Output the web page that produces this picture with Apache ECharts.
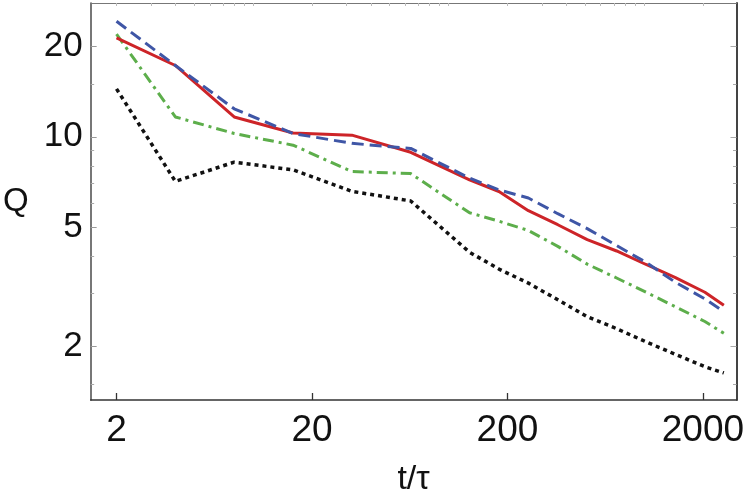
<!DOCTYPE html>
<html>
<head>
<meta charset="utf-8">
<script src="https://cdn.jsdelivr.net/npm/echarts@6/dist/echarts.min.js"></script>
<style>
html,body{margin:0;padding:0;background:#fff}
#main{width:747px;height:502px}
</style>
</head>
<body>
<div id="main"></div>
<script>
// t/tau sample points
var tValues = [2, 4, 8, 16, 32, 64, 128, 181, 256, 362, 512, 724, 1024, 1448, 2048, 2560];
// Q values
var redQ   = [21.4, 17.3, 11.65, 10.3, 10.13, 8.88, 7.19, 6.57, 5.67, 5.09, 4.54, 4.16, 3.75, 3.39, 3.03, 2.74];
var blueQ  = [24.3, 17.3, 12.4, 10.26, 9.51, 9.15, 7.28, 6.65, 6.25, 5.54, 4.94, 4.34, 3.81, 3.27, 2.88, 2.61];
var greenQ = [22.0, 11.65, 10.26, 9.38, 7.66, 7.54, 5.58, 5.23, 4.87, 4.31, 3.76, 3.38, 3.03, 2.71, 2.42, 2.21];
var blackQ = [14.45, 7.10, 8.23, 7.76, 6.58, 6.11, 4.12, 3.62, 3.25, 2.86, 2.51, 2.29, 2.07, 1.88, 1.71, 1.63];

var xMajor = [2, 20, 200, 2000];
var xMinor = [3, 4, 5, 6, 7, 8, 9, 10, 30, 40, 50, 60, 70, 80, 90, 100, 300, 400, 500, 600, 700, 800, 900, 1000];
var yMajor = [2, 5, 10, 20];
var yMinor = [1.5, 3, 4, 6, 7, 8, 9, 15];

var xMin = 1.475, xMax = 2972;
var yMin = 1.324, yMax = 27.96;

function pairs(ys) {
  var out = [];
  for (var i = 0; i < tValues.length; i++) {
    out.push([tValues[i], ys[i]]);
  }
  return out;
}

function fmt(v) {
  return String(Math.round(v * 10) / 10);
}

var lineFont = 'Liberation Sans, Arial, sans-serif';

var myChart = echarts.init(document.getElementById('main'));
var option = {
  animation: false,
  backgroundColor: '#fff',
  grid: { left: 90, right: 8, top: 3, bottom: 98 },
  xAxis: [
    {
      type: 'log', min: xMin, max: xMax, position: 'bottom',
      axisLine: { show: true, lineStyle: { color: '#333', width: 1.6 } },
      axisTick: { show: true, inside: true, length: 7, customValues: xMajor, lineStyle: { color: '#333', width: 1.3 } },
      axisLabel: { show: true, customValues: xMajor, formatter: fmt, fontSize: 37, color: '#111', fontFamily: lineFont, margin: 12 },
      splitLine: { show: false },
      minorTick: { show: false },
      name: 't/\u03c4', nameLocation: 'middle', nameGap: 63,
      nameTextStyle: { fontSize: 34, color: '#111', fontFamily: lineFont }
    },
    {
      type: 'log', min: xMin, max: xMax, position: 'top',
      axisLine: { show: true, lineStyle: { color: '#777', width: 1.2 } },
      axisTick: { show: true, inside: true, length: 3, customValues: xMajor.concat(xMinor), lineStyle: { color: '#bbb', width: 1 } },
      axisLabel: { show: false },
      splitLine: { show: false }
    }
  ],
  yAxis: [
    {
      type: 'log', min: yMin, max: yMax, position: 'left',
      axisLine: { show: true, lineStyle: { color: '#555', width: 1.6 } },
      axisTick: { show: true, inside: true, length: 6, customValues: yMajor, lineStyle: { color: '#999', width: 1 } },
      axisLabel: { show: true, customValues: yMajor, formatter: fmt, fontSize: 35, color: '#111', fontFamily: lineFont, margin: 8 },
      splitLine: { show: false },
      name: 'Q', nameLocation: 'middle', nameRotate: 0, nameGap: 62,
      nameTextStyle: { fontSize: 33, color: '#111', fontFamily: lineFont }
    },
    {
      type: 'log', min: yMin, max: yMax, position: 'right',
      axisLine: { show: true, lineStyle: { color: '#444', width: 2 } },
      axisTick: { show: true, inside: true, length: 6, customValues: yMajor, lineStyle: { color: '#aaa', width: 1 } },
      axisLabel: { show: false },
      splitLine: { show: false }
    },
    {
      type: 'log', min: yMin, max: yMax, position: 'left',
      axisLine: { show: false },
      axisTick: { show: true, inside: true, length: 3.5, customValues: yMinor, lineStyle: { color: '#aaa', width: 1 } },
      axisLabel: { show: false },
      splitLine: { show: false }
    },
    {
      type: 'log', min: yMin, max: yMax, position: 'right',
      axisLine: { show: false },
      axisTick: { show: true, inside: true, length: 3.5, customValues: yMinor, lineStyle: { color: '#aaa', width: 1 } },
      axisLabel: { show: false },
      splitLine: { show: false }
    }
  ],
  series: [
    {
      name: 'black', type: 'line', data: pairs(blackQ), showSymbol: false, symbol: 'none',
      lineStyle: { color: '#111', width: 3.5, type: [4, 4] }
    },
    {
      name: 'green', type: 'line', data: pairs(greenQ), showSymbol: false, symbol: 'none',
      lineStyle: { color: '#5DAE4B', width: 3, type: [11, 5, 3, 5] }
    },
    {
      name: 'red', type: 'line', data: pairs(redQ), showSymbol: false, symbol: 'none',
      lineStyle: { color: '#CD2428', width: 3 }
    },
    {
      name: 'blue', type: 'line', data: pairs(blueQ), showSymbol: false, symbol: 'none',
      lineStyle: { color: '#3F56A6', width: 3, type: [12, 6] }
    }
  ]
};
myChart.setOption(option);
</script>
</body>
</html>
